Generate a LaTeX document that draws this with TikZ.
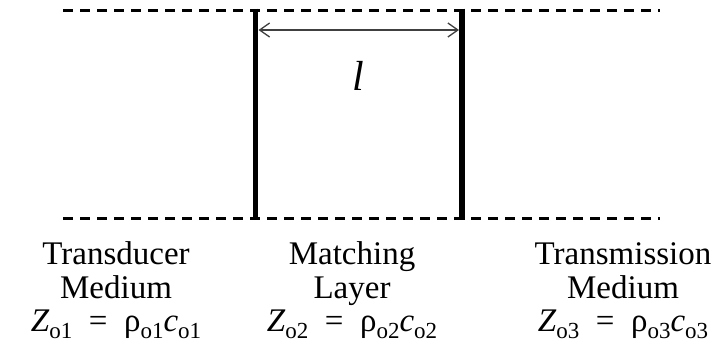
\documentclass[tikz,border=0pt]{standalone}
\usepackage{fontspec}
\setmainfont{Liberation Serif}
\usetikzlibrary{arrows.meta}
\newcommand\subtx[1]{\raisebox{-0.22em}{\fontsize{23}{23}\selectfont #1}}
\begin{document}
\begin{tikzpicture}[x=1pt,y=-1pt,
  dashline/.style={line width=3pt, dash pattern=on 10pt off 7pt},
  bar/.style={line width=5.5pt},
  dimline/.style={line width=1.3pt, draw=black!75,
    {Straight Barb[length=10pt,width=14pt]}-{Straight Barb[length=10pt,width=14pt]}},
  lbl/.style={font=\fontsize{33}{33}\selectfont, anchor=base, inner sep=0pt}]
\useasboundingbox (0,0) rectangle (712,354);
\coordinate (tl) at (63,10);
\coordinate (tr) at (660,10);
\coordinate (bl) at (63,218);
\coordinate (br) at (660,218);
\draw[dashline] (tl) -- (tr);
\draw[dashline] (bl) -- (br);
\coordinate (b1t) at (255.5,8.5);
\coordinate (b1b) at (255.5,219.5);
\coordinate (b2t) at (462,8.5);
\coordinate (b2b) at (462,219.5);
\draw[bar] (b1t) -- (b1b);
\draw[bar] (b2t) -- (b2b);
\coordinate (la) at (258.5,30);
\coordinate (ra) at (459,30);
\draw[dimline] (la) -- (ra);
\node[font=\fontsize{42}{42}\selectfont\itshape, inner sep=0pt] (len) at (358,76) {l};
\node[lbl] (t1) at (116,264) {Transducer};
\node[lbl] (t2) at (116,298) {Medium};
\node[lbl] (t3) at (116,331) {\textit{Z}\subtx{o1} ~=~ ρ\subtx{o1}\textit{c}\subtx{o1}};
\node[lbl] (m1) at (352,264) {Matching};
\node[lbl] (m2) at (352,298) {Layer};
\node[lbl] (m3) at (352,331) {\textit{Z}\subtx{o2} ~=~ ρ\subtx{o2}\textit{c}\subtx{o2}};
\node[lbl] (r1) at (623,264) {Transmission};
\node[lbl] (r2) at (623,298) {Medium};
\node[lbl] (r3) at (623,331) {\textit{Z}\subtx{o3} ~=~ ρ\subtx{o3}\textit{c}\subtx{o3}};
\end{tikzpicture}
\end{document}
